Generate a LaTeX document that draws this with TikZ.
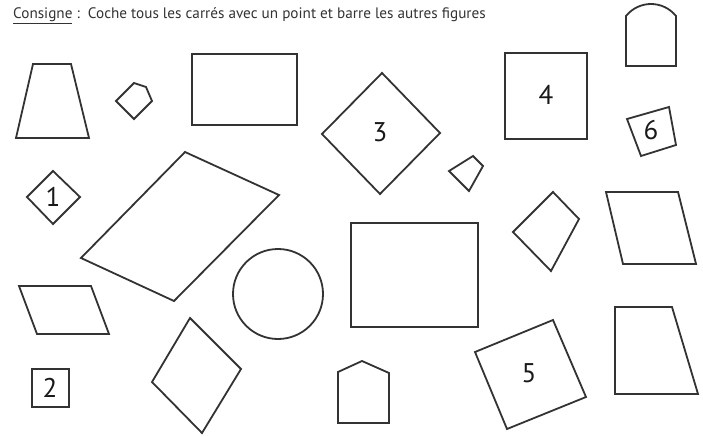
\documentclass[tikz,border=0pt]{standalone}
\usepackage{fontspec}
\setmainfont{PT Sans}
\tikzset{
  fig/.style={draw=black!80, line width=1.8pt, line join=miter},
  num/.style={font=\fontsize{27}{27}\selectfont, text=black!90, inner sep=0pt}
}
\begin{document}
\begin{tikzpicture}[x=1pt, y=-1pt]
  \useasboundingbox (0, 0) rectangle (703, 436);
  \node[anchor=base west, inner sep=0pt, text=black!80, font=\fontsize{15.2}{18}\selectfont] (consigne) at (13, 19)
    {\underline{Consigne}~:~~Coche tous les carrés avec un point et barre les autres figures};
  % top row
  \draw[fig] (33, 64) -- (71, 64) -- (89, 138) -- (16, 138) -- cycle;
  \draw[fig] (116, 101) -- (134, 83) -- (146, 87) -- (152, 101) -- (134, 119) -- cycle;
  \draw[fig] (192, 54) rectangle (297, 125);
  \draw[fig] (382, 73) -- (440, 133) -- (380, 194) -- (322, 134) -- cycle;
  \draw[fig] (505, 53) rectangle (587, 139);
  \draw[fig] (626, 16) .. controls (639, 0) and (663, 0) .. (676, 16) -- (676, 66) -- (626, 66) -- cycle;
  \draw[fig] (627, 119) -- (669, 107) -- (676, 145) -- (641, 156) -- cycle;
  \draw[fig] (449, 171) -- (473, 156) -- (483, 166) -- (469, 191) -- cycle;
  % middle
  \draw[fig] (53, 171) -- (80, 197) -- (53, 224) -- (27, 197) -- cycle;
  \draw[fig] (185, 152) -- (279, 195) -- (174, 301) -- (81, 258) -- cycle;
  \draw[fig] (278, 294) circle[radius=45];
  \draw[fig] (351, 223) rectangle (478, 327);
  \draw[fig] (553, 192) -- (579, 219) -- (551, 271) -- (513, 232) -- cycle;
  \draw[fig] (606, 192) -- (678, 192) -- (696, 264) -- (623, 264) -- cycle;
  % bottom row
  \draw[fig] (19, 286) -- (91, 286) -- (109, 334) -- (37, 334) -- cycle;
  \draw[fig] (32, 369) rectangle (69, 407);
  \draw[fig] (190, 318) -- (241, 369) -- (202, 433) -- (152, 382) -- cycle;
  \draw[fig] (338, 423) -- (389, 423) -- (389, 373) -- (362, 361) -- (338, 372) -- cycle;
  \draw[fig] (475, 352) -- (553, 320) -- (586, 397) -- (507, 429) -- cycle;
  \draw[fig] (615, 307) -- (672, 307) -- (698, 394) -- (615, 394) -- cycle;
  % numbers
  \node[num] (n1) at (53, 197) {1};
  \node[num] (n2) at (50, 388) {2};
  \node[num] (n3) at (380, 132) {3};
  \node[num] (n4) at (546, 95) {4};
  \node[num] (n5) at (529, 373) {5};
  \node[num] (n6) at (651, 130) {6};
\end{tikzpicture}
\end{document}
